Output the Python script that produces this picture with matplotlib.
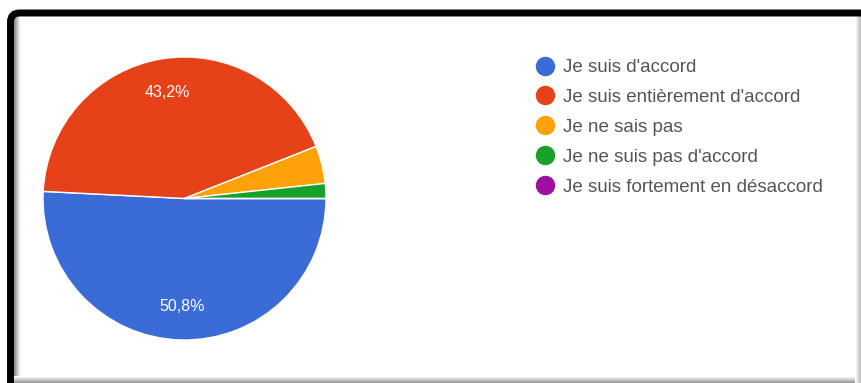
import numpy as np
import matplotlib
matplotlib.use("Agg")
import matplotlib.pyplot as plt
from matplotlib.lines import Line2D
from matplotlib.patches import FancyBboxPatch
from matplotlib.transforms import IdentityTransform

plt.rcParams['font.family'] = ['Liberation Sans', 'DejaVu Sans']

# survey answers (share of respondents, %)
labels = ["Je suis d'accord", "Je suis entièrement d'accord", "Je ne sais pas",
          "Je ne suis pas d'accord", "Je suis fortement en désaccord"]
shares = [50.8, 43.2, 4.3, 1.7, 0.0]
colors = ["#3a6bd6", "#e5421a", "#ffa20a", "#17a02a", "#9c0fa0"]

W, H = 861, 383
fig = plt.figure(figsize=(W / 100, H / 100), dpi=100)
fig.patch.set_facecolor("white")

# bevel shading of the card
def gradient(h, w, lo, hi, axis):
    g = np.linspace(lo, hi, w if axis == 1 else h)
    arr = np.ones((h, w, 3))
    if axis == 1:
        arr *= g[None, :, None]
    else:
        arr *= g[:, None, None]
    return arr

fig.figimage(gradient(H - 16, 7, 0.55, 1.0, 1), xo=14, yo=0, origin="lower", zorder=1)
fig.figimage(gradient(7, W - 14, 0.6, 1.0, 0), xo=14, yo=0, origin="lower", zorder=1)
fig.figimage(gradient(H - 16, 6, 1.0, 0.75, 1), xo=W - 6, yo=0, origin="lower", zorder=1)

border = FancyBboxPatch((10.5, -60), 1000, 430, boxstyle="round,pad=0,rounding_size=9",
                        lw=5, ec="black", fc="none", transform=IdentityTransform(), zorder=3)
fig.patches.append(border)

# pie
cx, cy, r = 184.5, 383 - 198.5, 141.5
ax = fig.add_axes([(cx - r) / W, (cy - r) / H, 2 * r / W, 2 * r / H])
ax.patch.set_visible(False)

def pct(v):
    return f"{v:.1f}%".replace(".", ",") if v > 5 else ""

wedges, _, autotexts = ax.pie(shares, colors=colors, startangle=0, counterclock=False,
                              autopct=pct, pctdistance=0.76,
                              wedgeprops=dict(edgecolor="white", linewidth=1),
                              textprops=dict(color="white", fontsize=11.5))
ax.set_xlim(-1, 1)
ax.set_ylim(-1, 1)
for w in wedges:
    w.set_clip_on(False)

handles = [Line2D([], [], marker="o", linestyle="none", markersize=13,
                  markerfacecolor=c, markeredgecolor=c) for c in colors]
fig.legend(handles, labels, loc="upper left", bbox_to_anchor=(536 / W, 324 / H),
           frameon=False, fontsize=13.5, labelcolor="#555555", handlelength=1.0,
           handletextpad=0.45, labelspacing=0.68, borderpad=0, borderaxespad=0)

fig.savefig("out.png", dpi=100)
